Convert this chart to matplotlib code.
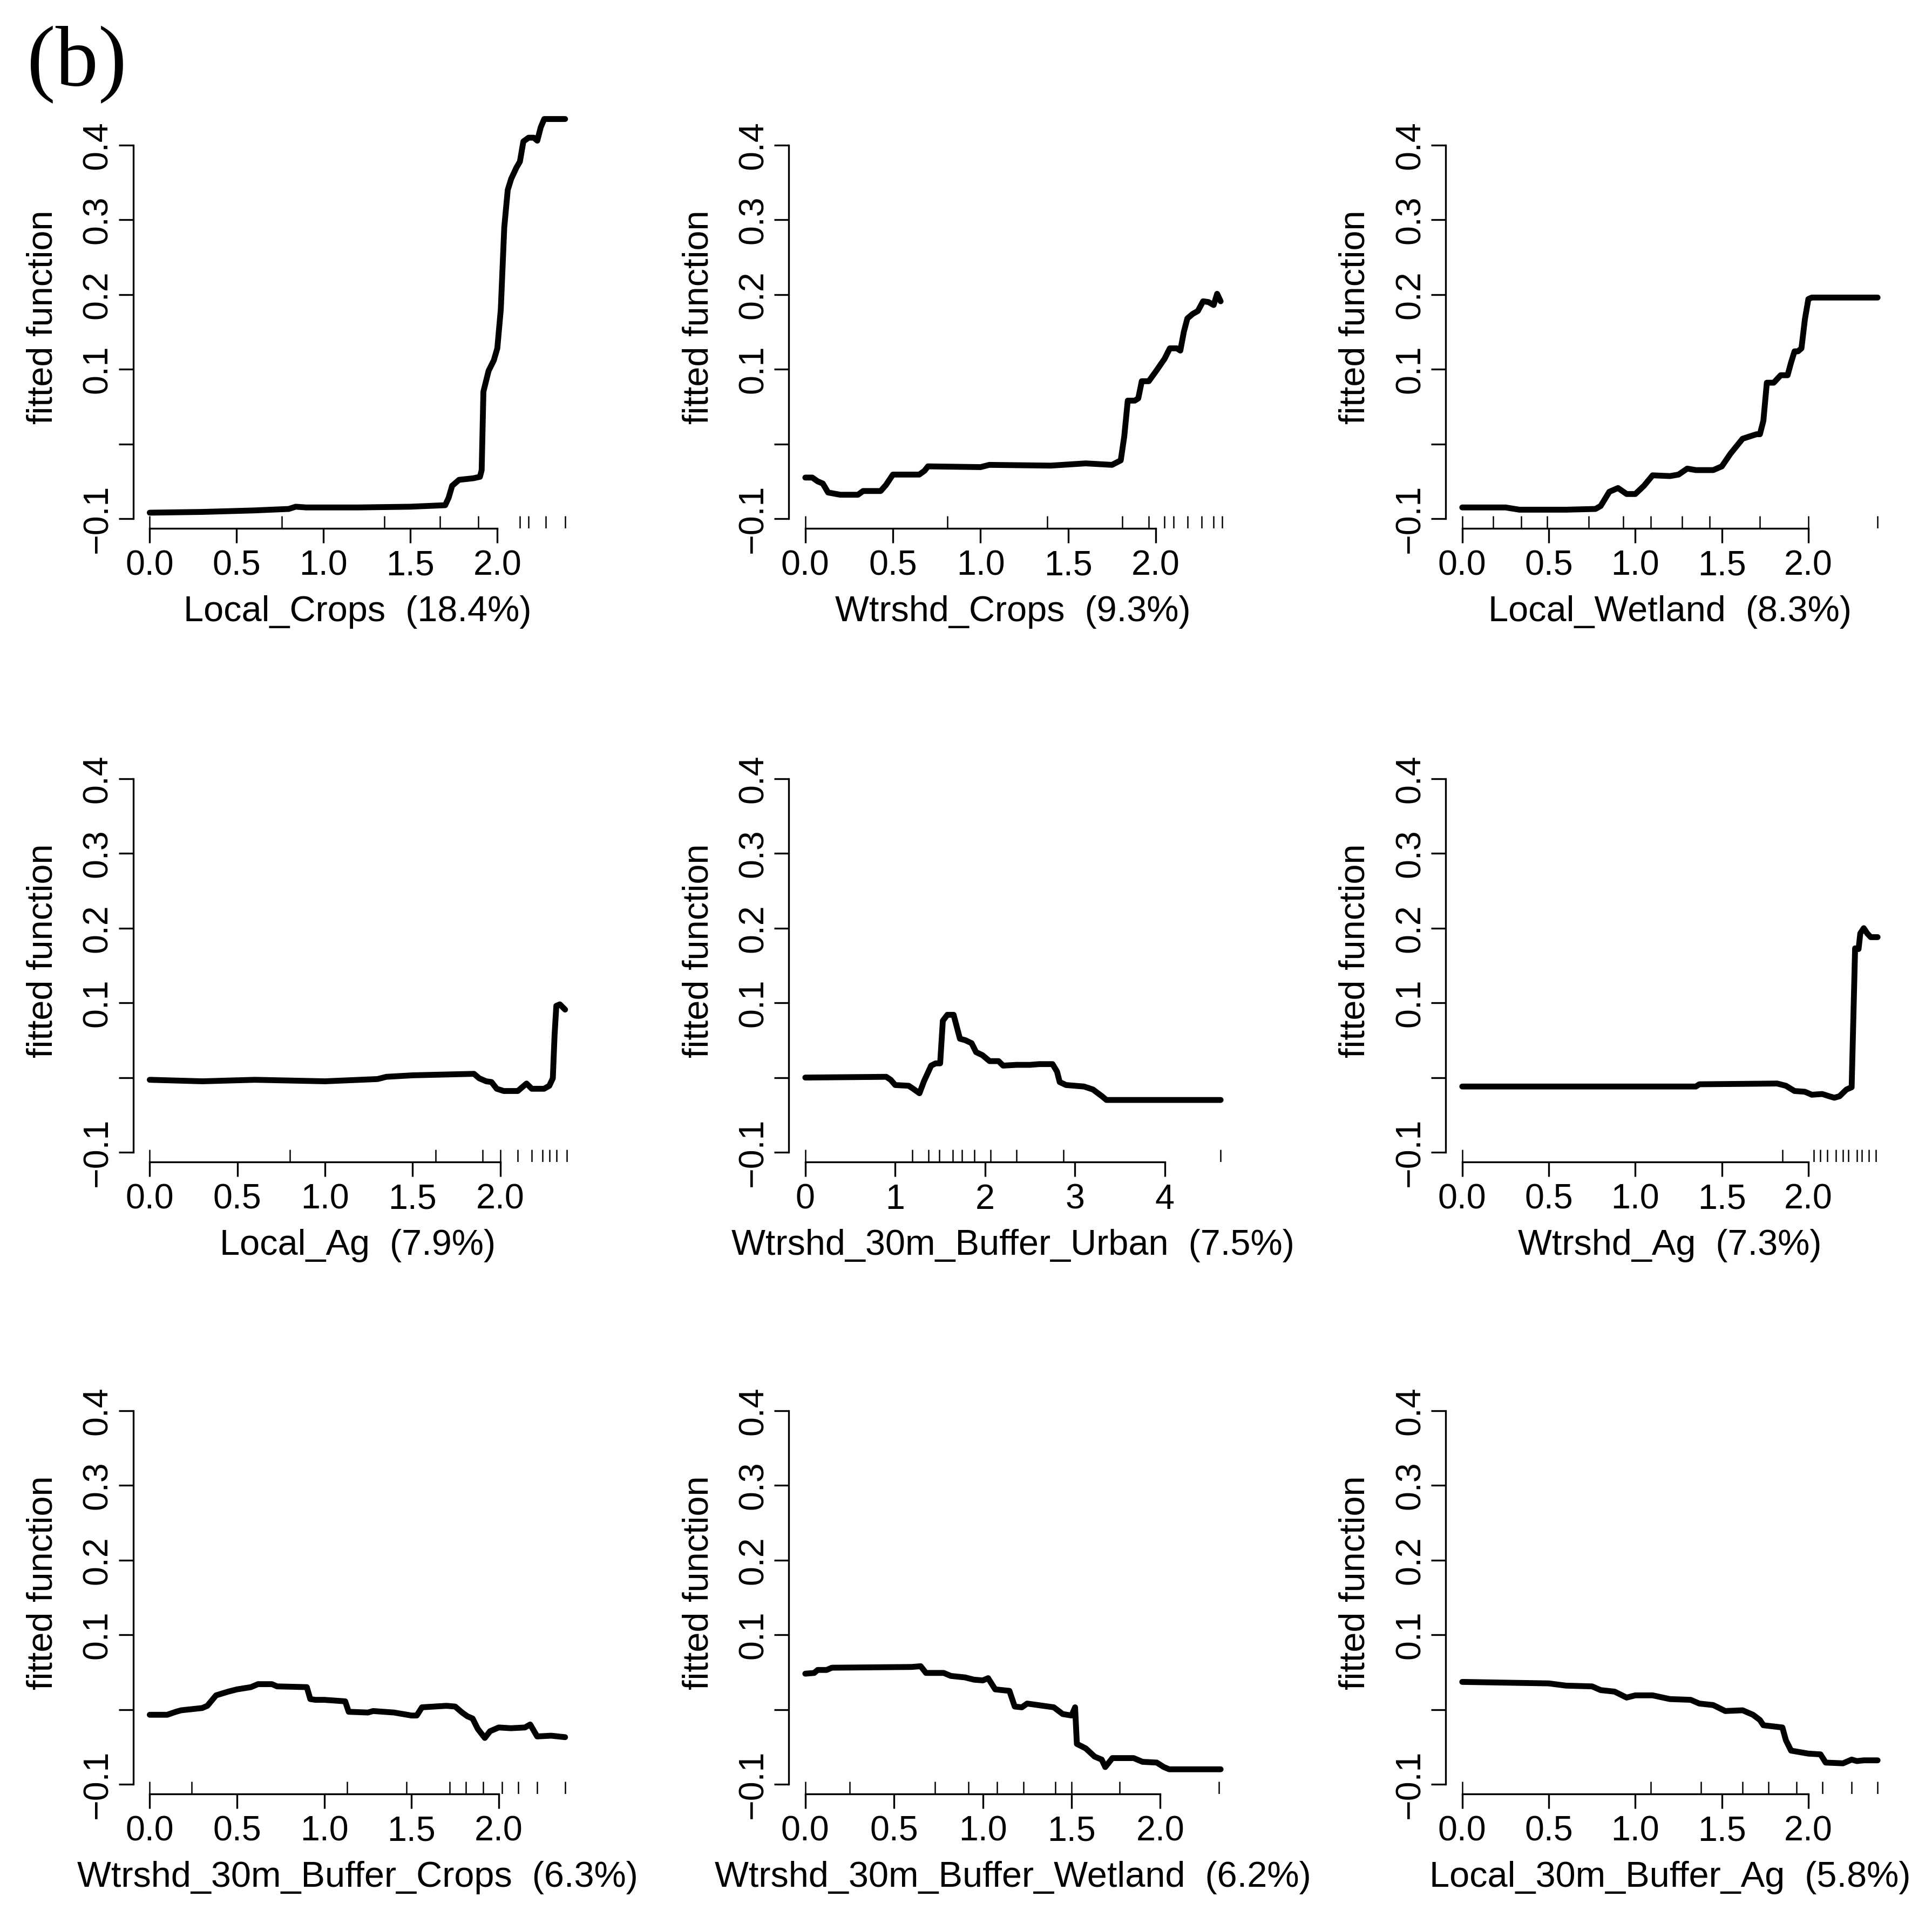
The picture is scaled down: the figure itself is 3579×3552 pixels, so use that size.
import numpy as np
import matplotlib.pyplot as plt

plt.rcParams['font.family'] = ['Liberation Sans', 'DejaVu Sans']

# partial dependence curves
local_crops_x = [0, 0.3, 0.6, 0.8, 0.84, 0.9, 1.2, 1.5, 1.7, 1.72, 1.74, 1.78, 1.86, 1.9, 1.91, 1.92, 1.95,
                 1.98, 2.0, 2.02, 2.04, 2.06, 2.08, 2.11, 2.13, 2.15, 2.18, 2.21, 2.23, 2.25, 2.27, 2.39]
local_crops_y = [-0.092, -0.091, -0.089, -0.087, -0.084, -0.085, -0.085, -0.084, -0.082, -0.072, -0.056, -0.048,
                 -0.046, -0.044, -0.035, 0.070, 0.098, 0.112, 0.128, 0.180, 0.290, 0.340, 0.355, 0.370, 0.378,
                 0.405, 0.410, 0.410, 0.406, 0.424, 0.435, 0.435]
local_crops_rug = [0, 0.76, 1.35, 1.67, 1.89, 2.13, 2.18, 2.28, 2.39]

wtrshd_crops_x = [0, 0.04, 0.07, 0.1, 0.13, 0.2, 0.3, 0.33, 0.43, 0.46, 0.5, 0.65, 0.68, 0.7, 1.0, 1.05, 1.4,
                  1.6, 1.75, 1.8, 1.82, 1.84, 1.88, 1.9, 1.92, 1.96, 2.0, 2.05, 2.08, 2.12, 2.14, 2.16, 2.18,
                  2.21, 2.24, 2.27, 2.3, 2.33, 2.35, 2.37]
wtrshd_crops_y = [-0.045, -0.045, -0.05, -0.053, -0.065, -0.068, -0.068, -0.063, -0.063, -0.055, -0.041, -0.041,
                  -0.036, -0.030, -0.031, -0.028, -0.029, -0.026, -0.028, -0.022, 0.010, 0.058, 0.058, 0.061,
                  0.084, 0.084, 0.097, 0.114, 0.128, 0.128, 0.125, 0.150, 0.168, 0.174, 0.178, 0.191, 0.190,
                  0.186, 0.201, 0.191]
wtrshd_crops_rug = [0, 0.81, 1.38, 1.81, 1.96, 2.05, 2.10, 2.18, 2.26, 2.33, 2.38]

local_wetland_x = [0, 0.25, 0.33, 0.6, 0.77, 0.8, 0.85, 0.9, 0.95, 1.0, 1.05, 1.1, 1.2, 1.25, 1.3, 1.35, 1.45,
                   1.5, 1.55, 1.62, 1.7, 1.72, 1.74, 1.76, 1.8, 1.84, 1.88, 1.9, 1.92, 1.94, 1.96, 1.98, 2.0,
                   2.02, 2.4]
local_wetland_y = [-0.085, -0.085, -0.088, -0.088, -0.087, -0.083, -0.064, -0.059, -0.067, -0.067, -0.056,
                   -0.042, -0.043, -0.041, -0.033, -0.035, -0.035, -0.030, -0.013, 0.007, 0.013, 0.013, 0.031,
                   0.082, 0.082, 0.092, 0.092, 0.109, 0.124, 0.124, 0.128, 0.167, 0.194, 0.196, 0.196]
local_wetland_rug = [0, 0.18, 0.34, 0.49, 0.73, 0.93, 1.09, 1.27, 1.43, 1.72, 2.0, 2.40]

local_ag_x = [0, 0.3, 0.6, 1.0, 1.3, 1.35, 1.5, 1.85, 1.88, 1.92, 1.95, 1.98, 2.02, 2.1, 2.13, 2.15, 2.18, 2.25,
              2.28, 2.3, 2.31, 2.32, 2.34, 2.37]
local_ag_y = [-0.003, -0.005, -0.003, -0.005, -0.002, 0.001, 0.003, 0.005, -0.001, -0.005, -0.006, -0.015,
              -0.018, -0.018, -0.012, -0.008, -0.015, -0.015, -0.011, -0.001, 0.057, 0.096, 0.098, 0.091]
local_ag_rug = [0, 0.80, 1.63, 1.90, 2.0, 2.10, 2.18, 2.24, 2.28, 2.32, 2.38]

buf_urban_x = [0, 0.9, 0.95, 1.0, 1.15, 1.2, 1.27, 1.32, 1.4, 1.45, 1.5, 1.53, 1.58, 1.65, 1.72, 1.78, 1.85,
               1.9, 1.97, 2.05, 2.15, 2.2, 2.35, 2.5, 2.6, 2.75, 2.8, 2.83, 2.9, 3.1, 3.2, 3.3, 3.35, 4.62]
buf_urban_y = [0.0, 0.001, -0.003, -0.010, -0.011, -0.015, -0.021, -0.005, 0.016, 0.019, 0.019, 0.076, 0.084,
               0.084, 0.052, 0.050, 0.046, 0.034, 0.030, 0.022, 0.022, 0.016, 0.017, 0.017, 0.018, 0.018, 0.008,
               -0.006, -0.010, -0.012, -0.016, -0.025, -0.030, -0.030]
buf_urban_rug = [0, 1.19, 1.37, 1.49, 1.64, 1.74, 1.88, 2.06, 2.35, 2.87, 4.62]

wtrshd_ag_x = [0, 1.35, 1.37, 1.82, 1.87, 1.92, 1.98, 2.02, 2.08, 2.12, 2.15, 2.18, 2.22, 2.25, 2.27, 2.29,
               2.3, 2.32, 2.34, 2.36, 2.4]
wtrshd_ag_y = [-0.012, -0.012, -0.009, -0.008, -0.011, -0.018, -0.019, -0.023, -0.022, -0.025, -0.027, -0.025,
               -0.016, -0.013, 0.173, 0.172, 0.193, 0.200, 0.193, 0.188, 0.188]
wtrshd_ag_rug = [0, 1.85, 2.03, 2.07, 2.11, 2.16, 2.20, 2.23, 2.28, 2.31, 2.35, 2.39]

buf_crops_x = [0, 0.1, 0.15, 0.18, 0.3, 0.33, 0.38, 0.45, 0.5, 0.58, 0.62, 0.7, 0.73, 0.9, 0.92, 0.95, 1.0,
               1.12, 1.14, 1.25, 1.28, 1.4, 1.5, 1.53, 1.56, 1.7, 1.75, 1.79, 1.82, 1.85, 1.88, 1.92, 1.95,
               2.0, 2.07, 2.15, 2.18, 2.22, 2.3, 2.38]
buf_crops_y = [-0.007, -0.007, -0.003, -0.001, 0.002, 0.005, 0.019, 0.024, 0.027, 0.030, 0.034, 0.034, 0.031,
               0.030, 0.014, 0.013, 0.013, 0.011, -0.003, -0.004, -0.002, -0.004, -0.008, -0.008, 0.003, 0.005,
               0.004, -0.004, -0.009, -0.012, -0.026, -0.038, -0.029, -0.024, -0.025, -0.024, -0.020, -0.036,
               -0.035, -0.037]
buf_crops_rug = [0, 0.24, 1.13, 1.47, 1.72, 1.81, 1.91, 2.02, 2.11, 2.22, 2.38]

buf_wetland_x = [0, 0.05, 0.07, 0.12, 0.15, 0.6, 0.65, 0.68, 0.78, 0.82, 0.9, 0.95, 1.0, 1.03, 1.07, 1.15,
                 1.18, 1.22, 1.25, 1.4, 1.45, 1.5, 1.52, 1.53, 1.58, 1.63, 1.67, 1.69, 1.73, 1.85, 1.9, 1.98,
                 2.02, 2.05, 2.34]
buf_wetland_y = [0.048, 0.049, 0.053, 0.053, 0.056, 0.057, 0.058, 0.049, 0.049, 0.045, 0.043, 0.040, 0.039,
                 0.042, 0.027, 0.025, 0.004, 0.003, 0.008, 0.003, -0.006, -0.008, 0.003, -0.046, -0.052,
                 -0.063, -0.067, -0.077, -0.065, -0.065, -0.070, -0.071, -0.077, -0.080, -0.080]
buf_wetland_rug = [0, 0.25, 0.73, 0.92, 1.08, 1.23, 1.41, 1.50, 1.77, 2.33]

local_buf_ag_x = [0, 0.25, 0.5, 0.6, 0.75, 0.8, 0.88, 0.95, 1.0, 1.1, 1.2, 1.32, 1.37, 1.45, 1.52, 1.62, 1.68,
                  1.72, 1.74, 1.85, 1.87, 1.9, 2.0, 2.07, 2.1, 2.2, 2.25, 2.28, 2.32, 2.4]
local_buf_ag_y = [0.037, 0.036, 0.035, 0.032, 0.031, 0.026, 0.024, 0.016, 0.019, 0.019, 0.014, 0.013, 0.008,
                  0.006, -0.002, -0.001, -0.007, -0.014, -0.021, -0.024, -0.041, -0.055, -0.059, -0.060,
                  -0.071, -0.072, -0.067, -0.069, -0.068, -0.068]
local_buf_ag_rug = [0, 1.09, 1.38, 1.62, 1.77, 1.93, 2.08, 2.25, 2.40]

names = ["Local_Crops  (18.4%)", "Wtrshd_Crops  (9.3%)", "Local_Wetland  (8.3%)",
         "Local_Ag  (7.9%)", "Wtrshd_30m_Buffer_Urban  (7.5%)", "Wtrshd_Ag  (7.3%)",
         "Wtrshd_30m_Buffer_Crops  (6.3%)", "Wtrshd_30m_Buffer_Wetland  (6.2%)", "Local_30m_Buffer_Ag  (5.8%)"]
xs = [local_crops_x, wtrshd_crops_x, local_wetland_x, local_ag_x, buf_urban_x, wtrshd_ag_x,
      buf_crops_x, buf_wetland_x, local_buf_ag_x]
ys = [local_crops_y, wtrshd_crops_y, local_wetland_y, local_ag_y, buf_urban_y, wtrshd_ag_y,
      buf_crops_y, buf_wetland_y, local_buf_ag_y]
rugs = [local_crops_rug, wtrshd_crops_rug, local_wetland_rug, local_ag_rug, buf_urban_rug, wtrshd_ag_rug,
        buf_crops_rug, buf_wetland_rug, local_buf_ag_rug]

xticks_std = [0.0, 0.5, 1.0, 1.5, 2.0]
xticklabels_std = ["0.0", "0.5", "1.0", "1.5", "2.0"]
xticks_urban = [0, 1, 2, 3, 4]
xticklabels_urban = ["0", "1", "2", "3", "4"]
yticks = [-0.1, 0.0, 0.1, 0.2, 0.3, 0.4]
yticklabels = ["\u22120.1", "", "0.1", "0.2", "0.3", "0.4"]

W, H = 3579, 3552
fig = plt.figure(figsize=(W / 300, H / 300), dpi=300)

col_left = [246.6, 1461, 2678]
row_bottom = [979, 2153, 3324]
ax_w, ax_h = 831, 782
ylo, yhi = -0.113, 0.452

for i in range(9):
    r, c = divmod(i, 3)
    ax = fig.add_axes([col_left[c] / W, 1 - row_bottom[r] / H, ax_w / W, ax_h / H])
    x = np.array(xs[i])
    xmax = x.max()
    ax.plot(x, ys[i], color="black", lw=2.6, solid_joinstyle="round", solid_capstyle="round")
    ax.set_xlim(-0.04 * xmax, 1.04 * xmax)
    ax.set_ylim(ylo, yhi)
    # rug of deciles
    ax.vlines(rugs[i], 0, 0.03, transform=ax.get_xaxis_transform(), color="black", lw=0.6)

    if i == 4:
        ticks, labels = xticks_urban, xticklabels_urban
    else:
        ticks, labels = xticks_std, xticklabels_std
    ax.set_xticks(ticks)
    ax.set_xticklabels(labels)
    ax.set_yticks(yticks)
    ax.set_yticklabels(yticklabels, rotation=90, va="center")

    for s in ["top", "right"]:
        ax.spines[s].set_visible(False)
    ax.spines["left"].set_bounds(-0.1, 0.4)
    ax.spines["bottom"].set_bounds(ticks[0], ticks[-1])
    for s in ["left", "bottom"]:
        ax.spines[s].set_linewidth(0.8)
    ax.tick_params(direction="out", length=6.5, width=0.8, labelsize=15.5, pad=3)
    ax.tick_params(axis="y", pad=2)

    ax.text(0.5, -155 / ax_h, names[i], transform=ax.transAxes, ha="center", va="center", fontsize=16)
    ax.text(-167 / ax_w, 0.5, "fitted function", transform=ax.transAxes, ha="center", va="center",
            rotation=90, fontsize=16)

fig.text(50 / W, 1 - 48 / H, "(b)", ha="left", va="top", fontsize=38, family="Liberation Serif")

fig.savefig("out.png", dpi=300, facecolor="white")
